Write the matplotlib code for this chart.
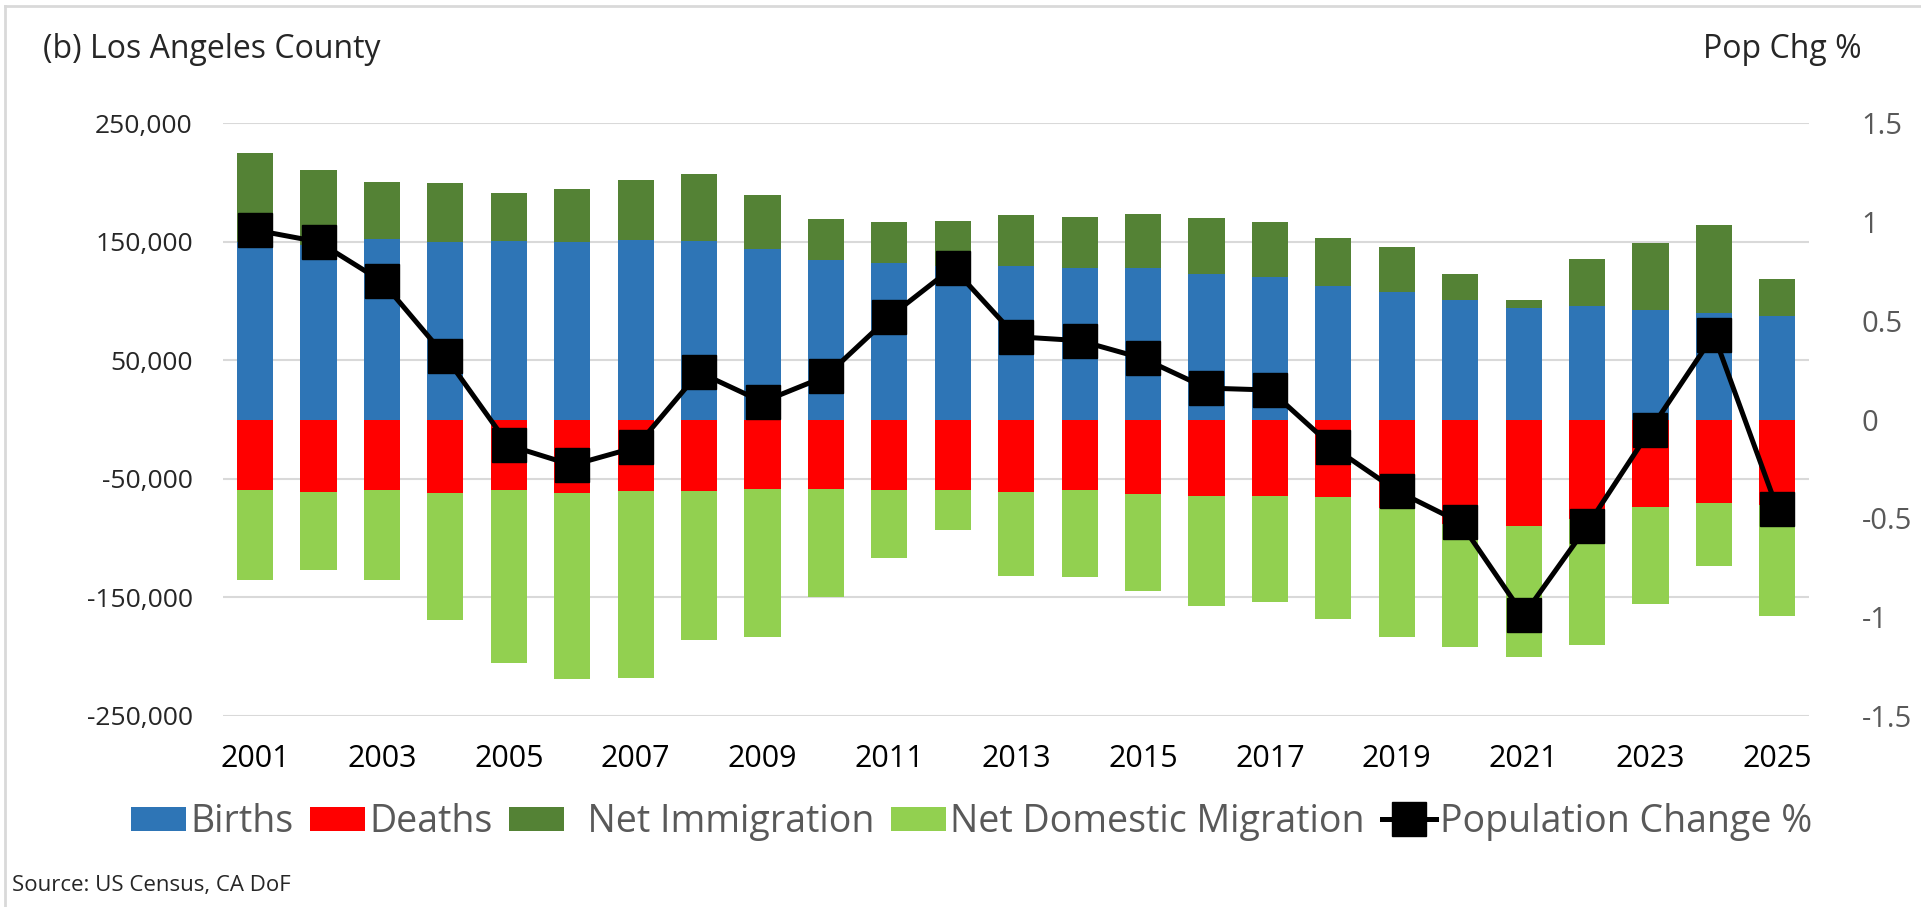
import numpy as np
import matplotlib
matplotlib.use("Agg")
import matplotlib.pyplot as plt
from matplotlib.ticker import FuncFormatter
from matplotlib.lines import Line2D

plt.rcParams['font.family'] = ['Open Sans', 'DejaVu Sans']

years = list(range(2001, 2026))

# values in persons
births = [150000, 147000, 152200, 150200, 151000, 149600, 151600, 151000, 143700, 134700,
          132400, 130000, 130000, 127700, 127700, 122900, 120600, 113000, 107400, 100800,
          93800, 96100, 92400, 89600, 87400]
net_immigration = [74900, 64000, 48700, 49300, 40600, 44800, 50700, 56100, 46000, 34900,
                   34700, 38000, 42700, 43600, 45900, 47600, 46500, 40000, 38600, 22000,
                   7000, 39200, 56400, 74700, 31000]
deaths = [-59700, -61200, -59700, -62000, -59200, -62000, -60300, -60300, -58300, -58300,
          -59200, -59200, -61200, -59200, -62600, -64500, -64500, -65400, -74400, -88000,
          -89600, -84000, -74000, -70400, -72000]
net_domestic = [-75300, -65300, -75300, -107000, -146500, -157000, -157500, -125700, -124900, -91600,
                -57700, -33800, -70400, -73800, -82200, -92400, -89100, -102800, -109300, -104200,
                -110400, -105900, -81600, -53300, -93400]
pop_chg = [0.96, 0.90, 0.70, 0.32, -0.13, -0.23, -0.14, 0.24, 0.09, 0.22,
           0.52, 0.77, 0.42, 0.40, 0.31, 0.16, 0.15, -0.14, -0.36, -0.52,
           -0.99, -0.54, -0.05, 0.43, -0.45]

c_births = '#2E75B6'
c_deaths = '#FF0000'
c_imm = '#548235'
c_dom = '#92D050'

fig = plt.figure(figsize=(19.21, 9.07), dpi=100)
ax = fig.add_axes([0.1163, 0.2106, 0.8254, 0.6534])

x = np.arange(len(years))
w = 0.57
ax.bar(x, births, w, color=c_births, label='Births', zorder=2)
ax.bar(x, deaths, w, color=c_deaths, label='Deaths', zorder=2)
ax.bar(x, net_immigration, w, bottom=births, color=c_imm, label='  Net Immigration', zorder=2)
ax.bar(x, net_domestic, w, bottom=deaths, color=c_dom, label='Net Domestic Migration', zorder=2)

ax.set_xlim(-0.5, len(years) - 0.5)
ax.set_ylim(-250000, 250000)
ax.set_yticks([-250000, -150000, -50000, 50000, 150000, 250000])
ax.yaxis.set_major_formatter(FuncFormatter(lambda v, p: '{:,}'.format(int(v))))
ax.set_xticks(x[::2])
ax.set_xticklabels([str(y) for y in years[::2]])
ax.grid(axis='y', color='#d9d9d9', linewidth=1.5, zorder=0)
ax.set_axisbelow(True)
for s in ax.spines.values():
    s.set_visible(False)
ax.tick_params(axis='y', length=0, pad=22, labelsize=19, labelcolor='#262626')
ax.tick_params(axis='x', length=0, pad=20, labelsize=22, labelcolor='#000000')

ax2 = ax.twinx()
ax2.plot(x, pop_chg, color='black', linewidth=3.6, marker='s', markersize=24,
         markeredgewidth=1, label='Population Change %', zorder=5)
ax2.set_ylim(-1.5, 1.5)
ax2.set_yticks([-1.5, -1, -0.5, 0, 0.5, 1, 1.5])
ax2.yaxis.set_major_formatter(FuncFormatter(lambda v, p: '{:g}'.format(v)))
for s in ax2.spines.values():
    s.set_visible(False)
ax2.tick_params(axis='y', length=0, pad=38, labelsize=21, labelcolor='#595959')

fig.text(43 / 1921, 1 - 49 / 907, '(b) Los Angeles County', fontsize=23,
         color='#262626', ha='left', va='center')
fig.text(1862 / 1921, 1 - 49 / 907, 'Pop Chg %', fontsize=23,
         color='#262626', ha='right', va='center')
fig.text(12 / 1921, 1 - 885 / 907, 'Source: US Census, CA DoF', fontsize=16,
         color='#262626', ha='left', va='center')

h1, l1 = ax.get_legend_handles_labels()
h2, l2 = ax2.get_legend_handles_labels()
leg = fig.legend(h1 + h2, l1 + l2, loc='center', bbox_to_anchor=(0.506, 1 - 822 / 907),
                 ncol=5, frameon=False, fontsize=27, handlelength=1.45, handleheight=0.62,
                 handletextpad=0.12, columnspacing=0.45, borderaxespad=0)
for t in leg.get_texts():
    t.set_color('#595959')

# light frame round the chart
fig.add_artist(Line2D([5 / 1921, 5 / 1921], [0, 1 - 6 / 907], color='#d9d9d9', linewidth=2))
fig.add_artist(Line2D([5 / 1921, 1], [1 - 6 / 907, 1 - 6 / 907], color='#d9d9d9', linewidth=2))

fig.savefig('out.png', dpi=100)
